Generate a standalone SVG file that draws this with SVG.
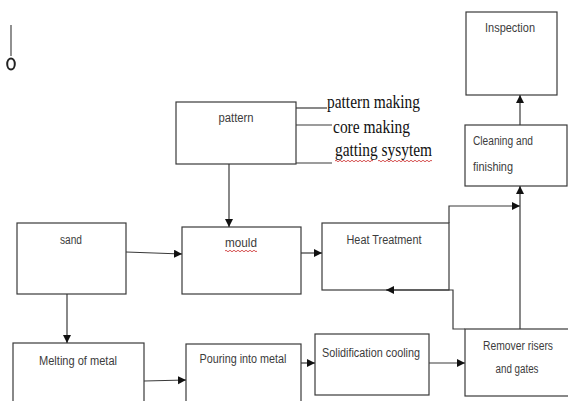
<svg xmlns="http://www.w3.org/2000/svg" width="568" height="401" viewBox="0 0 568 401">
<style>
.box{fill:#fff;stroke:#3a3a3a;stroke-width:1.2}
.lbl{font-family:"Liberation Sans",Arial,sans-serif;font-size:12.5px;fill:#3c3c3c}
.ser{font-family:"Liberation Serif","Times New Roman",serif;font-size:18px;fill:#111}
.con{fill:none;stroke:#3a3a3a;stroke-width:1.2}
.sq{fill:none;stroke:#d04040;stroke-width:0.9}
</style>
<defs>
<marker id="ah" markerUnits="userSpaceOnUse" markerWidth="9" markerHeight="9" refX="8" refY="4" orient="auto">
<path d="M0,0 L8,4 L0,8 z" fill="#111"/>
</marker>
</defs>
<rect width="568" height="401" fill="#fff"/>
<g id="marker-o">
<line x1="11" y1="25" x2="11" y2="56" stroke="#555" stroke-width="1.3"/>
<ellipse cx="11" cy="64" rx="3.8" ry="5.6" fill="none" stroke="#222" stroke-width="2"/>
</g>
<g id="pattern">
<rect class="box" x="176" y="102" width="120" height="62"/>
<text class="lbl" x="236" y="122" text-anchor="middle" textLength="35" lengthAdjust="spacingAndGlyphs">pattern</text>
</g>
<g id="pattern-notes">
<text class="ser" x="327" y="108" textLength="93" lengthAdjust="spacingAndGlyphs">pattern making</text>
<text class="ser" x="333" y="133" textLength="77" lengthAdjust="spacingAndGlyphs">core making</text>
<text class="ser" x="335" y="156" textLength="97" lengthAdjust="spacingAndGlyphs">gatting sysytem</text>
<path class="sq" d="M335,161 q1,-1.5 2,0 t2,0 t2,0 t2,0 t2,0 t2,0 t2,0 t2,0 t2,0 t2,0 t2,0 t2,0 t2,0 t2,0 t2,0 t2,0 t2,0 t2,0 t2,0"/>
<path class="sq" d="M378,161 q1,-1.5 2,0 t2,0 t2,0 t2,0 t2,0 t2,0 t2,0 t2,0 t2,0 t2,0 t2,0 t2,0 t2,0 t2,0 t2,0 t2,0 t2,0 t2,0 t2,0 t2,0 t2,0 t2,0 t2,0 t2,0 t2,0 t2,0 t2,0"/>
</g>
<g id="sand">
<rect class="box" x="17" y="223" width="109" height="71"/>
<text class="lbl" x="71" y="244" text-anchor="middle" textLength="22" lengthAdjust="spacingAndGlyphs">sand</text>
</g>
<g id="mould">
<rect class="box" x="182" y="227" width="119" height="67"/>
<text class="lbl" x="241" y="247" text-anchor="middle" textLength="32" lengthAdjust="spacingAndGlyphs">mould</text>
<path class="sq" d="M225,251 q1,-1.5 2,0 t2,0 t2,0 t2,0 t2,0 t2,0 t2,0 t2,0 t2,0 t2,0 t2,0 t2,0 t2,0 t2,0 t2,0 t2,0"/>
</g>
<g id="heat">
<rect class="box" x="322" y="223" width="127" height="67"/>
<text class="lbl" x="384" y="244" text-anchor="middle" textLength="75" lengthAdjust="spacingAndGlyphs">Heat Treatment</text>
</g>
<g id="inspection">
<rect class="box" x="466" y="12" width="91" height="83"/>
<text class="lbl" x="510" y="32" text-anchor="middle" textLength="50" lengthAdjust="spacingAndGlyphs">Inspection</text>
</g>
<g id="cleaning">
<rect class="box" x="465" y="125" width="102" height="61"/>
<text class="lbl" x="473" y="145" textLength="60" lengthAdjust="spacingAndGlyphs">Cleaning and</text>
<text class="lbl" x="473" y="171" textLength="40" lengthAdjust="spacingAndGlyphs">finishing</text>
</g>
<g id="melting">
<rect class="box" x="13" y="343" width="131" height="70"/>
<text class="lbl" x="78" y="365" text-anchor="middle" textLength="78" lengthAdjust="spacingAndGlyphs">Melting of metal</text>
</g>
<g id="pouring">
<rect class="box" x="186" y="344" width="115" height="70"/>
<text class="lbl" x="243" y="363" text-anchor="middle" textLength="87" lengthAdjust="spacingAndGlyphs">Pouring into metal</text>
</g>
<g id="solidification">
<rect class="box" x="315" y="334" width="114" height="61"/>
<text class="lbl" x="371" y="357" text-anchor="middle" textLength="98" lengthAdjust="spacingAndGlyphs">Solidification cooling</text>
</g>
<g id="remover">
<rect class="box" x="465" y="329" width="110" height="67"/>
<text class="lbl" x="518" y="350" text-anchor="middle" textLength="70" lengthAdjust="spacingAndGlyphs">Remover risers</text>
<text class="lbl" x="517" y="373" text-anchor="middle" textLength="43" lengthAdjust="spacingAndGlyphs">and gates</text>
</g>
<g id="connectors">
<path class="con" d="M296,108 H327"/>
<path class="con" d="M296,125 H332"/>
<path class="con" d="M296,163 H332"/>
<path class="con" d="M229,164 V227" marker-end="url(#ah)"/>
<path class="con" d="M126,252 L182,254" marker-end="url(#ah)"/>
<path class="con" d="M67,294 V343" marker-end="url(#ah)"/>
<path class="con" d="M301,253 H322" marker-end="url(#ah)"/>
<path class="con" d="M144,381 L186,380" marker-end="url(#ah)"/>
<path class="con" d="M301,363 H315" marker-end="url(#ah)"/>
<path class="con" d="M429,363 H465" marker-end="url(#ah)"/>
<path class="con" d="M449,223 V206 H520" marker-end="url(#ah)"/>
<path class="con" d="M520,329 V186" marker-end="url(#ah)"/>
<path class="con" d="M465,329 H453 V290 H386" marker-end="url(#ah)"/>
<path class="con" d="M520,125 V95" marker-end="url(#ah)"/>
</g>
</svg>
